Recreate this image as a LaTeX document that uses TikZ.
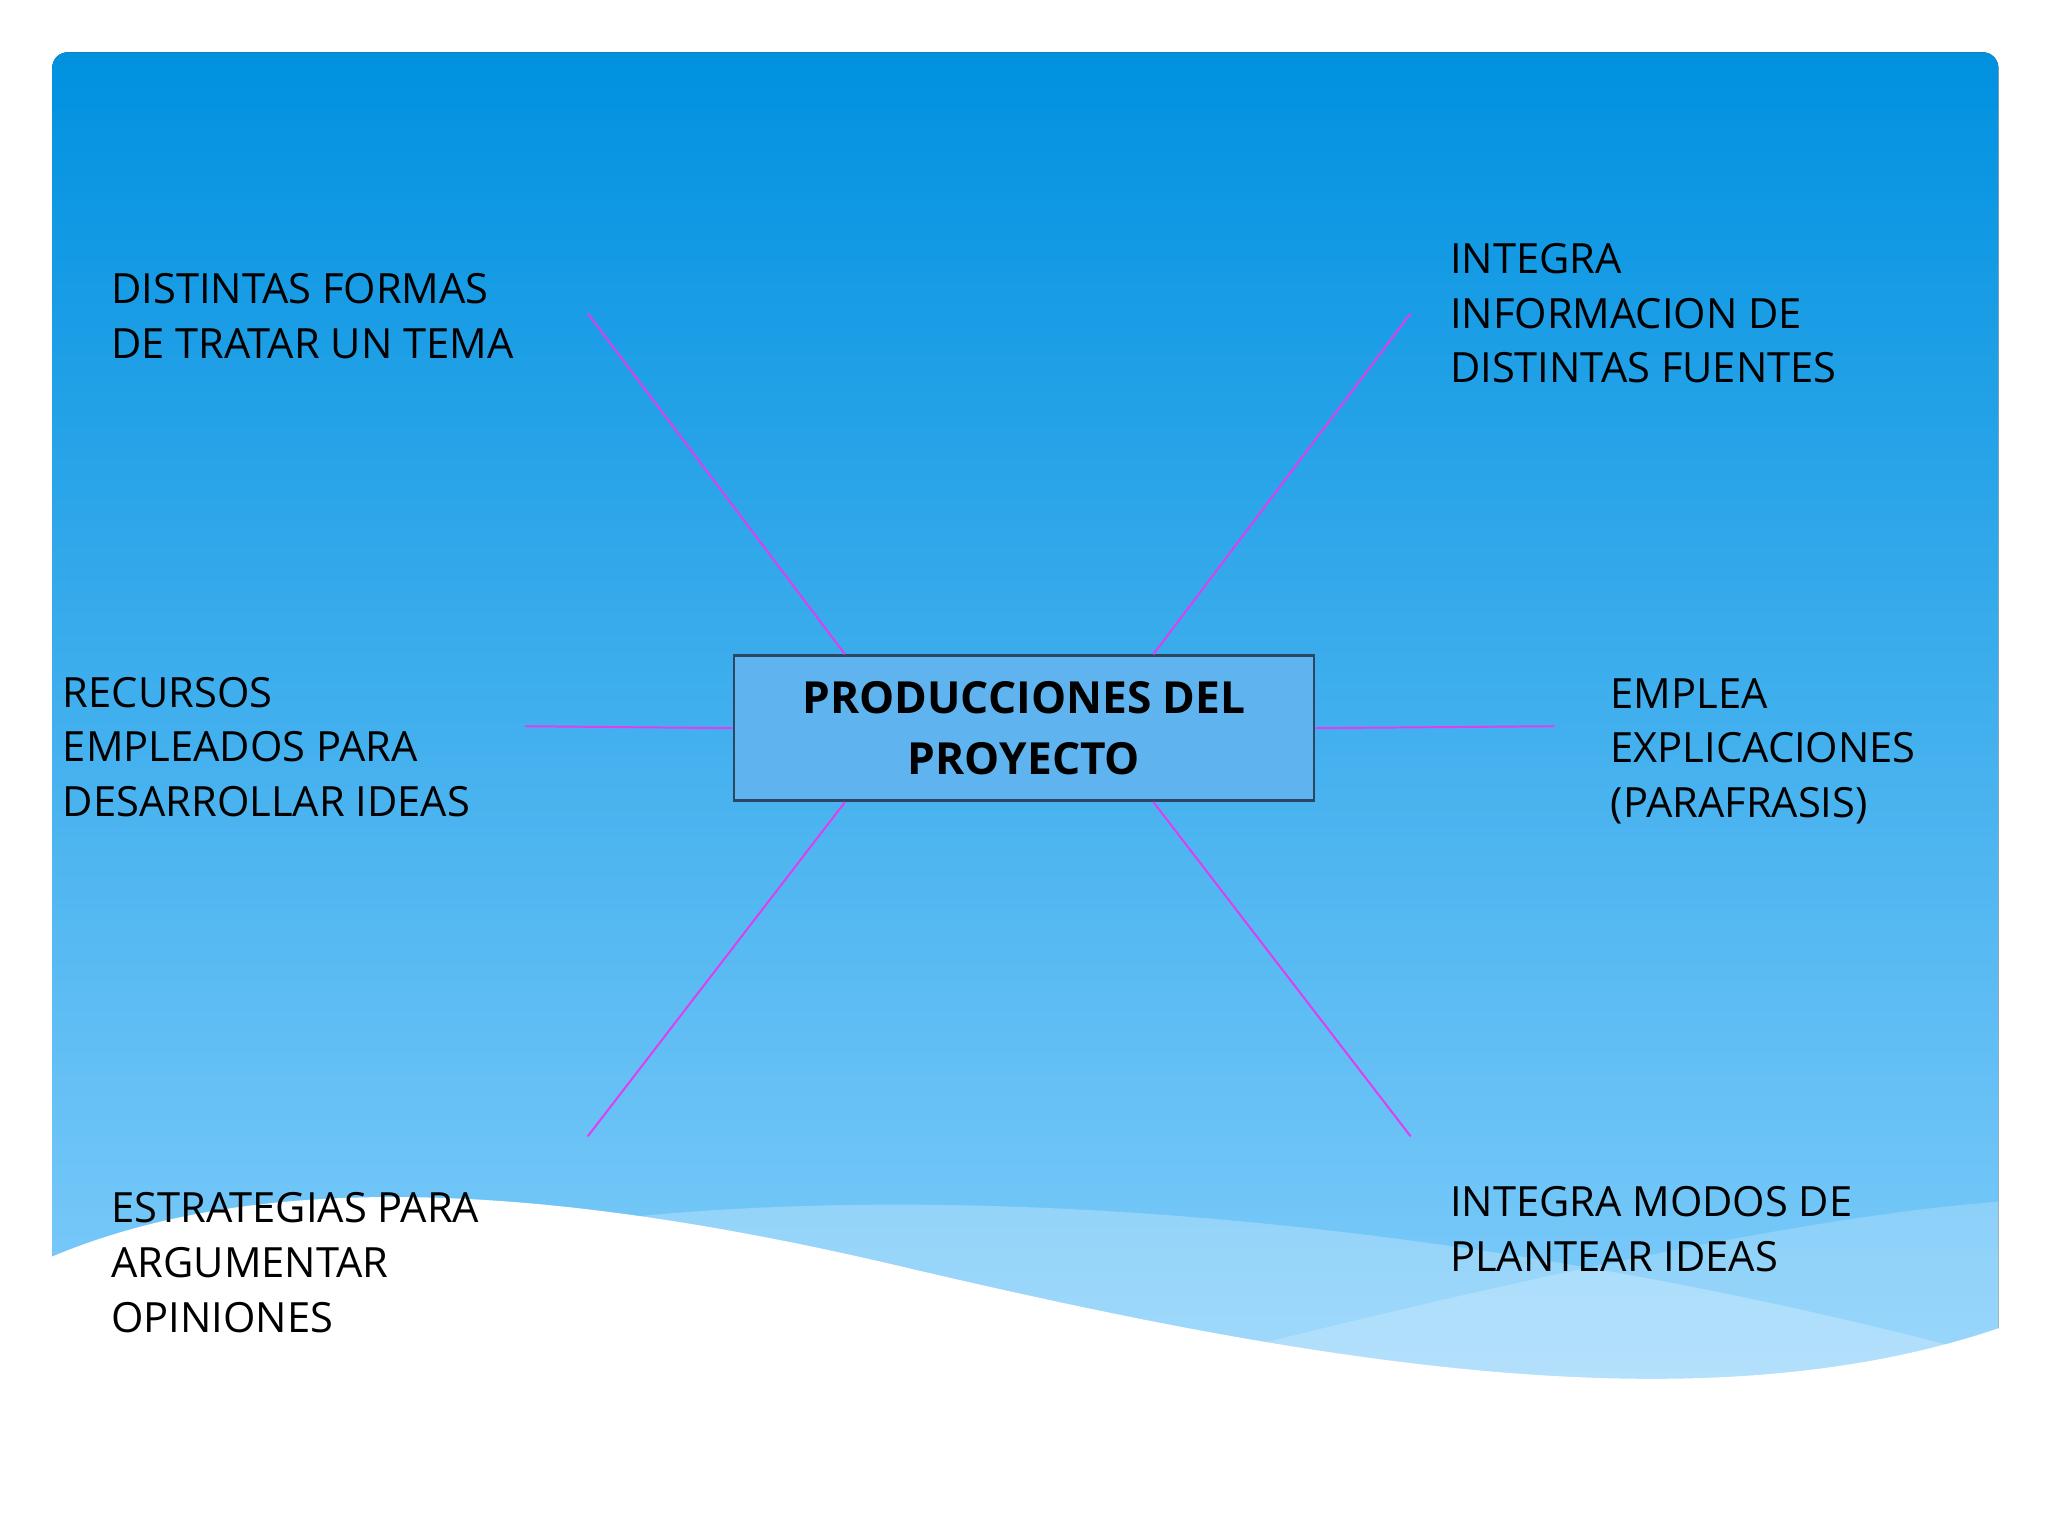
\documentclass[tikz,border=0pt]{standalone}
\usepackage{fontspec}
\setmainfont{Open Sans}
\begin{document}
\begin{tikzpicture}[x=1bp,y=-1bp,
  lbl/.style={anchor=north west,inner sep=0pt,align=left,font=\fontsize{32}{42}\selectfont,text=black},
  link/.style={draw={rgb,255:red,225;green,60;blue,240},line width=1.5bp}]
\useasboundingbox (0,0) rectangle (1568,1176);
\fill[white] (0,0) rectangle (1568,1176);
\fill[rounded corners=12bp,top color={rgb,255:red,0;green,145;blue,224},bottom color={rgb,255:red,135;green,208;blue,252}] (40,40) rectangle (1530,1100);
% translucent waves
\fill[white,opacity=0.25] (480,932) .. controls (800,900) and (1200,950) .. (1530,1040) -- (1530,1100) -- (900,1100) -- cycle;
\fill[white,opacity=0.2] (960,1030) .. controls (1200,970) and (1400,930) .. (1530,920) -- (1530,1100) -- (960,1100) -- cycle;
\fill[white] (40,962) .. controls (200,895) and (420,905) .. (700,972) .. controls (1000,1042) and (1300,1095) .. (1530,1017) -- (1568,1017) -- (1568,1176) -- (0,1176) -- (0,962) -- cycle;
\node[draw={rgb,255:red,45;green,70;blue,100},line width=2bp,fill={rgb,255:red,95;green,180;blue,240},minimum width=444bp,minimum height=111bp,align=center,font=\fontsize{34}{47}\selectfont\bfseries] (c) at (784,557.5) {PRODUCCIONES DEL\\PROYECTO};
\node[lbl] (t1) at (85,209) {DISTINTAS FORMAS\\DE TRATAR UN TEMA};
\node[lbl] (t2) at (1110,186) {INTEGRA\\INFORMACION DE\\DISTINTAS FUENTES};
\node[lbl] (t3) at (48,518) {RECURSOS\\EMPLEADOS PARA\\DESARROLLAR IDEAS};
\node[lbl] (t4) at (1233,519) {EMPLEA\\EXPLICACIONES\\(PARAFRASIS)};
\node[lbl] (t5) at (85,913) {ESTRATEGIAS PARA\\ARGUMENTAR\\OPINIONES};
\node[lbl] (t6) at (1110,908) {INTEGRA MODOS DE\\PLANTEAR IDEAS};
\coordinate (e1) at (450,240);
\coordinate (e2) at (1080,240);
\coordinate (e3) at (402,556);
\coordinate (e4) at (1190,556);
\coordinate (e5) at (450,870);
\coordinate (e6) at (1080,870);
\draw[link] (e1) -- ([xshift=-137bp]c.north);
\draw[link] (e2) -- ([xshift=99bp]c.north);
\draw[link] (e3) -- (c.west);
\draw[link] (e4) -- (c.east);
\draw[link] (e5) -- ([xshift=-137bp]c.south);
\draw[link] (e6) -- ([xshift=99bp]c.south);
\end{tikzpicture}
\end{document}
